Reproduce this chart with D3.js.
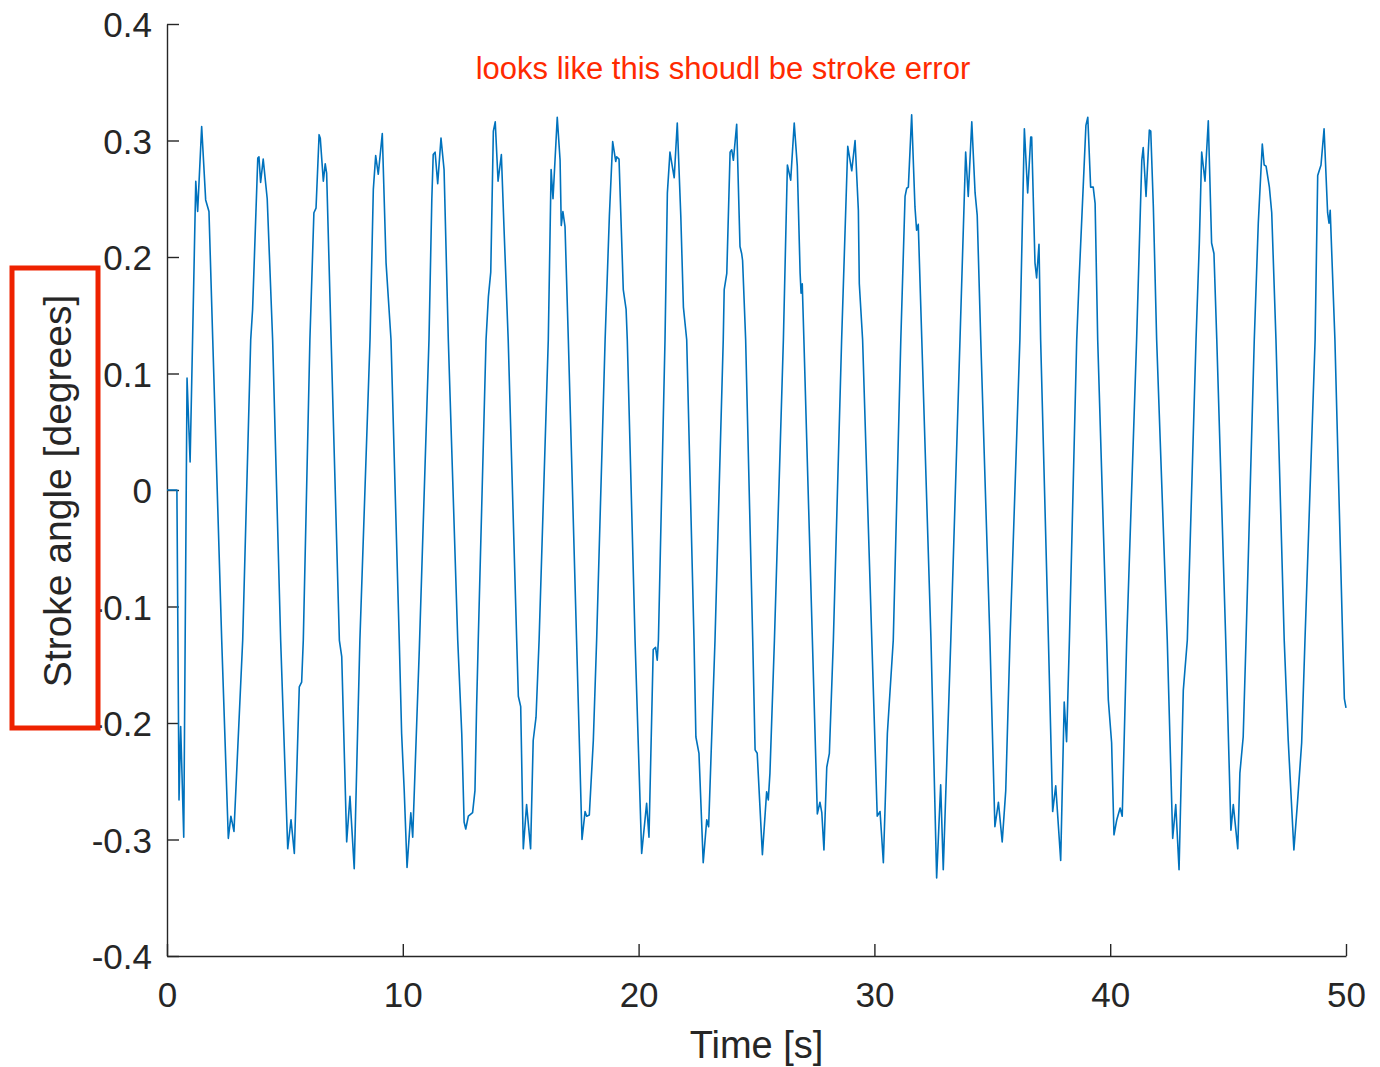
<!DOCTYPE html>
<html>
<head>
<meta charset="utf-8">
<script src="https://cdn.jsdelivr.net/npm/d3@7"></script>
<style>
  html, body { margin: 0; padding: 0; background: #ffffff; }
  svg { display: block; }
  text { font-family: "Liberation Sans", Arial, Helvetica, sans-serif; }
</style>
</head>
<body>
<svg id="chart" width="1380" height="1067"></svg>
<script>
// ---- data ----
const timeS = [
  0, 0.42, 0.51, 0.58, 0.71, 0.85, 0.98, 1.22, 1.30, 1.47, 1.64, 1.78, 1.94,
  2.32, 2.60, 2.71, 2.84, 3.21, 3.55, 3.63, 3.85, 3.90, 3.97, 4.08, 4.25, 4.48,
  4.82, 5.12, 5.26, 5.40, 5.61, 5.71, 5.78, 6.06, 6.23, 6.32, 6.45, 6.50, 6.63, 6.71, 6.77, 6.96,
  7.31, 7.41, 7.62, 7.76, 7.94, 8.18, 8.61, 8.75, 8.85, 8.96, 9.13, 9.29, 9.50,
  9.85, 9.95, 10.06, 10.18, 10.34, 10.42, 10.59, 10.70, 11.11, 11.23, 11.29, 11.37, 11.48, 11.62, 11.75, 11.93,
  12.33, 12.50, 12.60, 12.67, 12.78, 12.96, 13.06, 13.13, 13.20, 13.53, 13.63, 13.73, 13.84, 13.92, 14.04, 14.18, 14.29, 14.47,
  14.83, 14.90, 15.00, 15.11, 15.25, 15.42, 15.53, 15.65, 15.78, 16.17, 16.29, 16.37, 16.55, 16.67, 16.72, 16.79, 16.88, 17.02,
  17.37, 17.60, 17.73, 17.80, 17.91, 18.08, 18.22, 18.58, 18.76, 18.90, 19.03, 19.07, 19.17, 19.35, 19.47, 19.52,
  19.85, 20.13, 20.34, 20.44, 20.62, 20.72, 20.79, 20.84, 21.12, 21.22, 21.33, 21.51, 21.64, 21.79, 21.90, 22.04,
  22.35, 22.43, 22.56, 22.74, 22.89, 22.97, 23.24, 23.59, 23.63, 23.74, 23.88, 23.95, 24.02, 24.16, 24.30, 24.37, 24.41, 24.54,
  24.84, 24.94, 25.03, 25.25, 25.43, 25.50, 25.57, 25.76, 26.14, 26.31, 26.45, 26.60, 26.73, 26.85, 26.89, 26.94, 27.01,
  27.37, 27.58, 27.69, 27.77, 27.86, 27.98, 28.09, 28.26, 28.61, 28.87, 29.04, 29.18, 29.32, 29.36, 29.50,
  29.89, 30.12, 30.24, 30.38, 30.55, 30.80, 31.12, 31.30, 31.37, 31.44, 31.58, 31.72, 31.79, 31.86, 32.01,
  32.40, 32.64, 32.81, 32.92, 33.24, 33.63, 33.87, 33.98, 34.13, 34.27, 34.36, 34.51,
  34.90, 35.11, 35.26, 35.42, 35.57, 35.75, 36.17, 36.36, 36.50, 36.63, 36.67, 36.81, 36.88, 36.98, 37.05,
  37.38, 37.56, 37.69, 37.90, 38.05, 38.15, 38.27, 38.58, 38.68, 38.97, 39.05, 39.17, 39.28, 39.36, 39.47,
  39.85, 39.92, 40.06, 40.16, 40.28, 40.42, 40.51, 40.70, 41.12, 41.34, 41.40, 41.52, 41.66, 41.72, 41.83, 41.97,
  42.42, 42.65, 42.78, 42.92, 43.10, 43.27, 43.64, 43.78, 43.88, 44.02, 44.16, 44.30, 44.40, 44.52,
  44.90, 45.12, 45.22, 45.41, 45.50, 45.64, 45.76, 46.11, 46.28, 46.45, 46.53, 46.61, 46.75, 46.85, 47.03,
  47.38, 47.55, 47.79, 47.94, 48.12, 48.26, 48.69, 48.80, 48.94, 49.07, 49.22, 49.28, 49.33, 49.53,
  49.86, 49.93, 50.00
];
const strokeAngle = [
  0, 0, -0.266, -0.203, -0.298, 0.096, 0.024, 0.265, 0.239, 0.312, 0.249, 0.239, 0.129,
  -0.129, -0.299, -0.280, -0.293, -0.129, 0.129, 0.155, 0.285, 0.286, 0.264, 0.284, 0.250, 0.129,
  -0.129, -0.308, -0.283, -0.312, -0.169, -0.165, -0.129, 0.129, 0.238, 0.242, 0.305, 0.302, 0.265, 0.280, 0.272, 0.129,
  -0.129, -0.143, -0.302, -0.263, -0.325, -0.129, 0.129, 0.258, 0.287, 0.271, 0.306, 0.195, 0.129,
  -0.129, -0.209, -0.258, -0.324, -0.277, -0.298, -0.200, -0.137, 0.129, 0.249, 0.288, 0.290, 0.263, 0.302, 0.275, 0.129,
  -0.129, -0.209, -0.285, -0.291, -0.280, -0.277, -0.258, -0.186, -0.129, 0.129, 0.166, 0.187, 0.308, 0.316, 0.265, 0.288, 0.226, 0.129,
  -0.129, -0.177, -0.186, -0.308, -0.270, -0.308, -0.215, -0.195, -0.129, 0.129, 0.275, 0.250, 0.320, 0.283, 0.227, 0.239, 0.226, 0.129,
  -0.129, -0.300, -0.276, -0.280, -0.279, -0.215, -0.129, 0.129, 0.235, 0.299, 0.282, 0.286, 0.284, 0.172, 0.155, 0.129,
  -0.129, -0.312, -0.269, -0.298, -0.137, -0.135, -0.146, -0.129, 0.129, 0.255, 0.290, 0.268, 0.315, 0.235, 0.157, 0.129,
  -0.129, -0.212, -0.226, -0.320, -0.283, -0.289, -0.129, 0.129, 0.172, 0.186, 0.290, 0.292, 0.283, 0.314, 0.209, 0.203, 0.197, 0.129,
  -0.129, -0.223, -0.226, -0.313, -0.259, -0.266, -0.243, -0.129, 0.129, 0.279, 0.266, 0.315, 0.278, 0.186, 0.169, 0.177, 0.129,
  -0.129, -0.278, -0.268, -0.277, -0.309, -0.238, -0.226, -0.129, 0.129, 0.295, 0.274, 0.300, 0.240, 0.177, 0.129,
  -0.129, -0.280, -0.276, -0.320, -0.209, -0.129, 0.129, 0.252, 0.259, 0.260, 0.322, 0.243, 0.223, 0.228, 0.129,
  -0.129, -0.333, -0.253, -0.326, -0.129, 0.129, 0.290, 0.252, 0.316, 0.255, 0.236, 0.129,
  -0.129, -0.289, -0.268, -0.302, -0.258, -0.129, 0.129, 0.310, 0.255, 0.303, 0.303, 0.195, 0.182, 0.211, 0.129,
  -0.129, -0.276, -0.254, -0.318, -0.182, -0.216, -0.129, 0.129, 0.180, 0.313, 0.320, 0.260, 0.260, 0.246, 0.129,
  -0.129, -0.180, -0.217, -0.296, -0.283, -0.273, -0.280, -0.129, 0.129, 0.283, 0.294, 0.252, 0.309, 0.308, 0.243, 0.129,
  -0.129, -0.299, -0.270, -0.326, -0.172, -0.129, 0.129, 0.212, 0.290, 0.265, 0.317, 0.212, 0.203, 0.129,
  -0.129, -0.292, -0.270, -0.308, -0.243, -0.212, -0.129, 0.129, 0.229, 0.297, 0.279, 0.278, 0.260, 0.238, 0.129,
  -0.129, -0.215, -0.309, -0.269, -0.217, -0.129, 0.129, 0.270, 0.279, 0.310, 0.238, 0.229, 0.240, 0.129,
  -0.129, -0.179, -0.187
];
const xTicks = [0, 10, 20, 30, 40, 50];
const yTicks = [-0.4, -0.3, -0.2, -0.1, 0, 0.1, 0.2, 0.3, 0.4];
const yTickLabels = ["-0.4", "-0.3", "-0.2", "-0.1", "0", "0.1", "0.2", "0.3", "0.4"];
const xLabel = "Time [s]";
const yLabel = "Stroke angle [degrees]";
const note = "looks like this shoudl be stroke error";

// ---- layout ----
const W = 1380, H = 1067;
const m = { left: 167, top: 24, right: W - 1346, bottom: H - 956 };
const svg = d3.select("#chart");

const x = d3.scaleLinear().domain([0, 50]).range([m.left, W - m.right]);
const y = d3.scaleLinear().domain([-0.4, 0.4]).range([H - m.bottom, m.top]);

const axisColor = "#262626";
const tickFont = 35;

// x axis
const gx = svg.append("g")
  .attr("transform", `translate(0,${H - m.bottom})`)
  .call(d3.axisBottom(x).tickValues(xTicks).tickFormat(d3.format("d"))
    .tickSizeInner(-12).tickSizeOuter(0).tickPadding(26));
// y axis
const gy = svg.append("g")
  .attr("transform", `translate(${m.left},0)`)
  .call(d3.axisLeft(y).tickValues(yTicks).tickFormat((d, i) => yTickLabels[i])
    .tickSizeInner(-12).tickSizeOuter(0).tickPadding(15));

[gx, gy].forEach(g => {
  g.select(".domain").attr("stroke", axisColor).attr("stroke-width", 1.4);
  g.selectAll(".tick line").attr("stroke", axisColor).attr("stroke-width", 1.4);
  g.selectAll(".tick text").attr("fill", axisColor)
    .style("font-size", tickFont + "px");
});
gy.selectAll(".tick text").attr("dy", "0.36em");
gx.selectAll(".tick text").attr("dy", "0.72em");

// line
const pts = timeS.map((t, i) => [t, strokeAngle[i]]);
svg.append("path")
  .datum(pts)
  .attr("fill", "none")
  .attr("stroke", "#0072BD")
  .attr("stroke-width", 1.6)
  .attr("stroke-linejoin", "round")
  .attr("d", d3.line().x(d => x(d[0])).y(d => y(d[1])));

// x label
svg.append("text")
  .attr("x", (x(0) + x(50)) / 2)
  .attr("y", 1058)
  .attr("text-anchor", "middle")
  .attr("fill", axisColor)
  .style("font-size", "38px")
  .text(xLabel);

// red annotation box around y label
svg.append("rect")
  .attr("x", 12).attr("y", 268)
  .attr("width", 86).attr("height", 460)
  .attr("fill", "#ffffff")
  .attr("stroke", "#ee2200")
  .attr("stroke-width", 5);

// y label
svg.append("text")
  .attr("transform", `translate(71,${(y(-0.4) + y(0.4)) / 2 + 1}) rotate(-90)`)
  .attr("text-anchor", "middle")
  .attr("fill", axisColor)
  .style("font-size", "39px")
  .text(yLabel);

// red note
svg.append("text")
  .attr("x", 723)
  .attr("y", 79)
  .attr("text-anchor", "middle")
  .attr("fill", "#ff2a00")
  .style("font-size", "31px")
  .text(note);
</script>
</body>
</html>
